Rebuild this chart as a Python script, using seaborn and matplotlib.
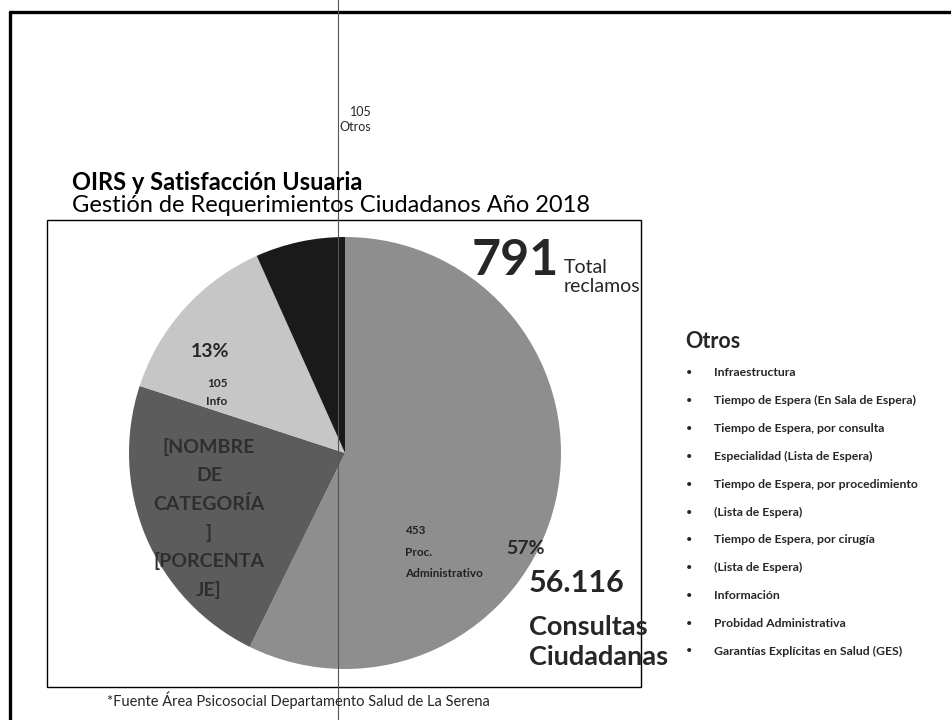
import matplotlib
matplotlib.use("Agg")
import matplotlib.pyplot as plt
import seaborn as sns
from matplotlib.lines import Line2D
from matplotlib.patches import Rectangle

sns.set_theme(style="white")
plt.rcParams["font.family"] = ["Lato", "DejaVu Sans"]

# ---- data ----
categories = ["Proc. Administrativo", "[NOMBRE DE CATEGORÍA]", "Info", "Otros"]
values = [453, 180, 105, 53]
slice_colors = ["#8e8e8e", "#5c5c5c", "#c6c6c6", "#1a1a1a"]
otros_label_value = 105
total_reclamos = "791"
consultas = "56.116"
otros_items = [
    "Infraestructura",
    "Tiempo de Espera (En Sala de Espera)",
    "Tiempo de Espera, por consulta",
    "Especialidad (Lista de Espera)",
    "Tiempo de Espera, por procedimiento",
    "(Lista de Espera)",
    "Tiempo de Espera, por cirugía",
    "(Lista de Espera)",
    "Información",
    "Probidad Administrativa",
    "Garantías Explícitas en Salud (GES)",
]

W, H = 951, 720
fig = plt.figure(figsize=(W / 100, H / 100), dpi=100)
fig.patch.set_facecolor("white")

# pie, placed in pixel units (centre and radius)
cx, cy, r = 345, 453, 216
pie_ax = fig.add_axes([(cx - r) / W, (H - cy - r) / H, 2 * r / W, 2 * r / H])
pie_ax.pie(values, colors=slice_colors, startangle=90, counterclock=False,
           radius=1, wedgeprops=dict(linewidth=0))
pie_ax.set_xlim(-1, 1)
pie_ax.set_ylim(-1, 1)
pie_ax.set_aspect("equal")
pie_ax.axis("off")

# overlay axes in pixel coordinates (y downward) for frames and text
bg = fig.add_axes([0, 0, 1, 1])
bg.set_xlim(0, W)
bg.set_ylim(H, 0)
bg.axis("off")
bg.patch.set_alpha(0)

# page frame and fold line
bg.add_line(Line2D([10, W], [12, 12], color="black", lw=2.4))
bg.add_line(Line2D([10, 10], [12, H], color="black", lw=2.4))
bg.add_line(Line2D([338, 338], [0, H], color="#555555", lw=0.8))

# chart box
bg.add_patch(Rectangle((47, 220), 594, 467, fill=False, ec="black", lw=1.0))

total = sum(values)
pct = [f"{round(100 * v / total)}%" for v in values]

# titles
bg.text(72, 182, "OIRS y Satisfacción Usuaria", fontsize=17, fontweight="bold",
        va="center", ha="left", color="black")
bg.text(72, 205, "Gestión de Requerimientos Ciudadanos Año 2018", fontsize=17,
        va="center", ha="left", color="black")

# label for Otros above the chart
bg.text(350, 112, str(otros_label_value), fontsize=9, ha="left", va="center")
bg.text(339, 127, categories[3], fontsize=9, ha="left", va="center")

# slice labels
bg.text(525, 554, pct[0], fontsize=14, fontweight="bold", ha="center", va="baseline")
bg.text(405, 534, str(values[0]), fontsize=8.5, fontweight="bold", ha="left", va="baseline", color="#222222")
bg.text(405, 556, "Proc.", fontsize=8.5, fontweight="bold", ha="left", va="baseline", color="#222222")
bg.text(405, 577, "Administrativo", fontsize=8.5, fontweight="bold", ha="left", va="baseline", color="#222222")

bg.text(210, 357, pct[2], fontsize=14, fontweight="bold", ha="center", va="baseline")
bg.text(217, 387, str(values[2]), fontsize=8.5, fontweight="bold", ha="center", va="baseline")
bg.text(217, 405, categories[2], fontsize=8.5, fontweight="bold", ha="center", va="baseline")

nombre_lines = ["[NOMBRE", "DE", "CATEGORÍA", "]", "[PORCENTA", "JE]"]
for i, line in enumerate(nombre_lines):
    bg.text(209, 447 + i * 28.6, line, fontsize=14, fontweight="bold",
            ha="center", va="center", color="#2e2e2e")

# headline figures
bg.text(472, 275, total_reclamos, fontsize=36, fontweight="bold", ha="left", va="baseline")
bg.text(564, 273, "Total", fontsize=14, ha="left", va="baseline")
bg.text(564, 292, "reclamos", fontsize=14, ha="left", va="baseline")

bg.text(529, 592, consultas, fontsize=22, fontweight="bold", ha="left", va="baseline")
bg.text(529, 635, "Consultas", fontsize=19.5, fontweight="bold", ha="left", va="baseline")
bg.text(529, 665, "Ciudadanas", fontsize=19.5, fontweight="bold", ha="left", va="baseline")

# source note
bg.text(107, 706, "*Fuente Área Psicosocial Departamento Salud de La Serena",
        fontsize=10.5, ha="left", va="baseline")

# Otros list
bg.text(685, 342, "Otros", fontsize=15.5, fontweight="bold", ha="left", va="center")
for i, item in enumerate(otros_items):
    y = 373 + i * 27.8
    bg.text(686, y, "•", fontsize=8, ha="left", va="center")
    bg.text(714, y, item, fontsize=8.8, fontweight="bold", ha="left", va="center")

fig.savefig("out.png", dpi=100, facecolor="white")
